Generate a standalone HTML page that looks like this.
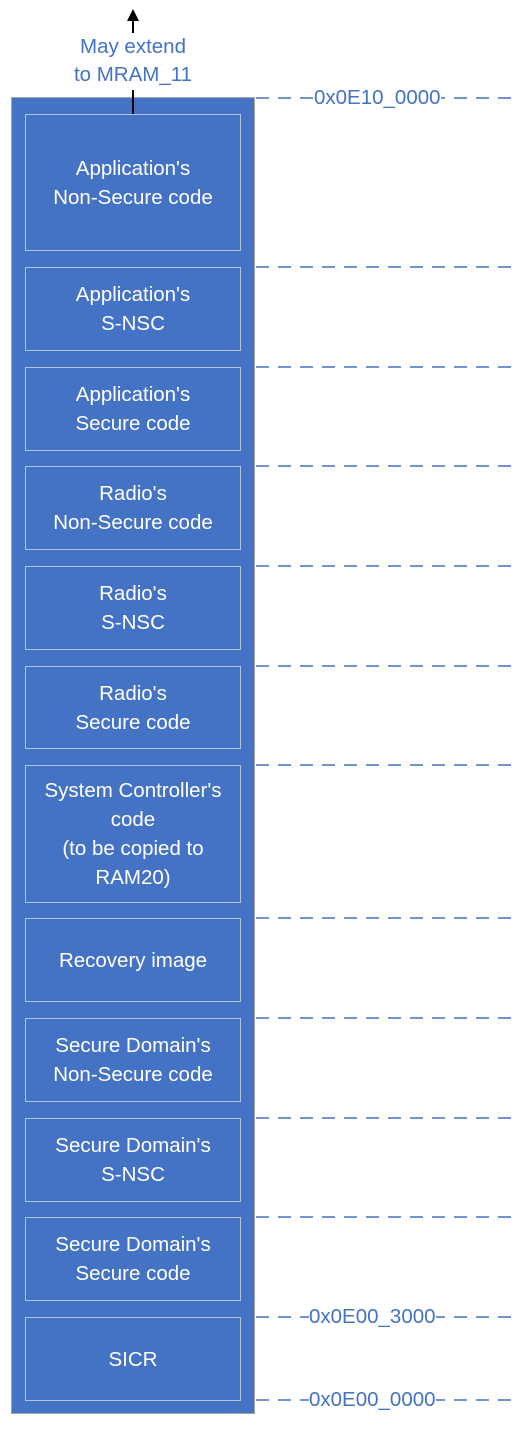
<!DOCTYPE html>
<html><head><style>
body{margin:0;width:520px;height:1436px;background:#fff;position:relative;font-family:"Liberation Sans",sans-serif;overflow:hidden}
.outer{position:absolute;left:11px;top:97px;width:244px;height:1317px;background:#4472C4;border:1px solid #a5a5a5;box-sizing:border-box}
.b{position:absolute;left:25px;width:216px;border:1px solid #b4c3dc;box-sizing:border-box;display:flex;align-items:center;justify-content:center;text-align:center;color:#fff;font-size:20.5px;line-height:29px;white-space:nowrap}
.lbl{position:absolute;color:#4472C4;font-size:20.5px;background:#fff;line-height:22px}
</style></head><body>
<div class="outer"></div>
<svg style="position:absolute;left:0;top:0" width="520" height="1436">
<g stroke="#4472C4" stroke-width="1.6" stroke-dasharray="13,9">
<line x1="256" y1="98" x2="512" y2="98"/>
<line x1="256" y1="267" x2="512" y2="267"/>
<line x1="256" y1="367" x2="512" y2="367"/>
<line x1="256" y1="466" x2="512" y2="466"/>
<line x1="256" y1="566" x2="512" y2="566"/>
<line x1="256" y1="666" x2="512" y2="666"/>
<line x1="256" y1="765" x2="512" y2="765"/>
<line x1="256" y1="918" x2="512" y2="918"/>
<line x1="256" y1="1018" x2="512" y2="1018"/>
<line x1="256" y1="1118" x2="512" y2="1118"/>
<line x1="256" y1="1217" x2="512" y2="1217"/>
<line x1="256" y1="1317" x2="512" y2="1317"/>
<line x1="256" y1="1400" x2="512" y2="1400"/>
</g>
<line x1="133" y1="90" x2="133" y2="115" stroke="#000" stroke-width="2"/>
<line x1="133" y1="18" x2="133" y2="33" stroke="#000" stroke-width="2"/>
<polygon points="133,9 127,21 139,21" fill="#000"/>
</svg>
<div class="lbl" style="left:0;width:266px;text-align:center;top:33px;background:none;line-height:28px">May extend<br>to MRAM_11</div>
<div class="lbl" style="left:314px;top:87px">0x0E10_0000</div>
<div class="lbl" style="left:309px;top:1306px">0x0E00_3000</div>
<div class="lbl" style="left:309px;top:1389px">0x0E00_0000</div>
<div class="b" style="top:114px;height:137px">Application's<br>Non-Secure code</div>
<div class="b" style="top:267px;height:84px">Application's<br>S-NSC</div>
<div class="b" style="top:367px;height:84px">Application's<br>Secure code</div>
<div class="b" style="top:466px;height:84px">Radio's<br>Non-Secure code</div>
<div class="b" style="top:566px;height:84px">Radio's<br>S-NSC</div>
<div class="b" style="top:666px;height:83px">Radio's<br>Secure code</div>
<div class="b" style="top:765px;height:138px">System Controller's<br>code<br>(to be copied to<br>RAM20)</div>
<div class="b" style="top:918px;height:84px">Recovery image</div>
<div class="b" style="top:1018px;height:84px">Secure Domain's<br>Non-Secure code</div>
<div class="b" style="top:1118px;height:84px">Secure Domain's<br>S-NSC</div>
<div class="b" style="top:1217px;height:84px">Secure Domain's<br>Secure code</div>
<div class="b" style="top:1317px;height:84px">SICR</div>
</body></html>
